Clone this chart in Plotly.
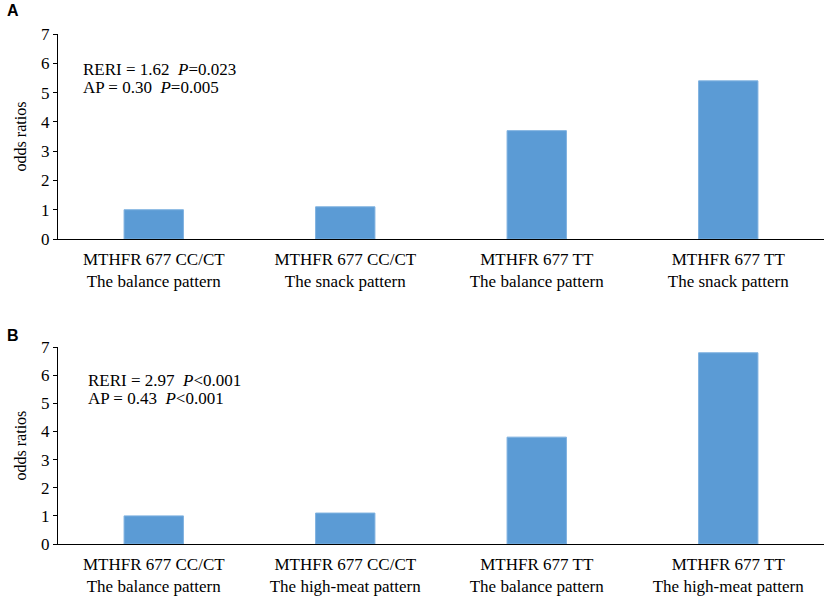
import plotly.graph_objects as go
from plotly.subplots import make_subplots

# panel A: MTHFR 677 x snack pattern
labels_a = [
    "MTHFR 677 CC/CT<br>The balance pattern",
    "MTHFR 677 CC/CT<br>The snack pattern",
    "MTHFR 677 TT<br>The balance pattern",
    "MTHFR 677 TT<br>The snack pattern",
]
or_a = [1.0, 1.1, 3.7, 5.4]

# panel B: MTHFR 677 x high-meat pattern
labels_b = [
    "MTHFR 677 CC/CT<br>The balance pattern",
    "MTHFR 677 CC/CT<br>The high-meat pattern",
    "MTHFR 677 TT<br>The balance pattern",
    "MTHFR 677 TT<br>The high-meat pattern",
]
or_b = [1.0, 1.1, 3.8, 6.8]

stats_a = ["RERI = 1.62  <i>P</i>=0.023", "AP = 0.30  <i>P</i>=0.005"]
stats_b = ["RERI = 2.97  <i>P</i><0.001", "AP = 0.43  <i>P</i><0.001"]

BAR = "#5B9BD5"
FONT = "Liberation Serif"

fig = make_subplots(rows=2, cols=1, vertical_spacing=0.2)

for row, (labels, vals) in enumerate([(labels_a, or_a), (labels_b, or_b)], start=1):
    fig.add_trace(
        go.Bar(
            x=labels,
            y=vals,
            marker={"color": BAR, "line": {"color": "#7fb2e0", "width": 1}},
            width=0.31,
            showlegend=False,
        ),
        row=row,
        col=1,
    )

axis_x = dict(
    showline=True, linecolor="black", linewidth=1.3, ticks="",
    tickfont={"family": FONT, "size": 17, "color": "black"},
    ticklabelstandoff=4,
    showgrid=False, zeroline=False, automargin=False,
)
axis_y = dict(
    range=[0, 7], dtick=1, showline=True, linecolor="black", linewidth=1.3,
    ticks="outside", ticklen=4, tickcolor="black",
    tickfont={"family": FONT, "size": 17, "color": "black"},
    showgrid=False, zeroline=False, automargin=False,
    title={"text": "odds ratios", "font": {"family": FONT, "size": 16, "color": "black"}, "standoff": 10},
)

fig.update_layout(
    width=829,
    height=597,
    margin={"l": 58, "r": 5, "t": 34, "b": 53},
    plot_bgcolor="white",
    paper_bgcolor="white",
    xaxis={**axis_x, "domain": [0, 1]},
    xaxis2={**axis_x, "domain": [0, 1]},
    yaxis={**axis_y, "domain": [0.598, 1]},
    yaxis2={**axis_y, "domain": [0, 0.386]},
)

# stats text, one annotation per line to keep the tight line spacing
for xref, yref, x0, lines, ys in [
    ("x domain", "y domain", 0.030, stats_a, (0.829, 0.737)),
    ("x2 domain", "y2 domain", 0.036, stats_b, (0.832, 0.741)),
]:
    for line, yy in zip(lines, ys):
        fig.add_annotation(
            text=line, xref=xref, yref=yref, x=x0, y=yy,
            xanchor="left", yanchor="middle", align="left", showarrow=False,
            font={"family": FONT, "size": 17, "color": "black"},
        )

for letter, ypx in [("A", 11), ("B", 335)]:
    fig.add_annotation(
        text="<b>%s</b>" % letter, xref="paper", yref="paper",
        x=-58 / 766 + 5 / 766, y=1 + (34 - ypx) / 510,
        xanchor="left", yanchor="middle", showarrow=False,
        font={"family": "Liberation Sans", "size": 16, "color": "black"},
    )

fig.write_html(
    "out.html",
    config={"displayModeBar": False},
    post_script="document.body.style.margin='0';",
)
